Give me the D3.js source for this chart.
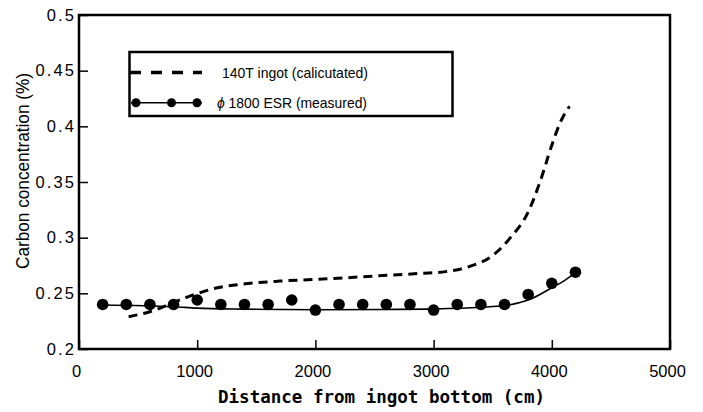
<!DOCTYPE html>
<html><head><meta charset="utf-8">
<script src="https://cdn.jsdelivr.net/npm/d3@7"></script>
<style>html,body{margin:0;padding:0;background:#fff;}</style>
</head><body>
<script>
// ---- data ----
const xTicks = [0, 1000, 2000, 3000, 4000, 5000];
const xTickLabels = ["0", "1000", "2000", "3000", "4000", "5000"];
const yTicks = [0.2, 0.25, 0.3, 0.35, 0.4, 0.45, 0.5];
const yTickLabels = ["0.2", "0.25", "0.3", "0.35", "0.4", "0.45", "0.5"];

const measuredX = [200, 400, 600, 800, 1000, 1200, 1400, 1600, 1800, 2000, 2200, 2400, 2600, 2800, 3000, 3200, 3400, 3600, 3800, 4000, 4200];
const measuredY = [0.24, 0.24, 0.24, 0.24, 0.244, 0.24, 0.24, 0.24, 0.244, 0.235, 0.24, 0.24, 0.24, 0.24, 0.235, 0.24, 0.24, 0.24, 0.249, 0.259, 0.269];

const fitX = [200, 800, 1000, 1400, 2000, 2600, 3000, 3400, 3600, 3700, 3800, 3900, 4000, 4100, 4200];
const fitY = [0.2395, 0.238, 0.2367, 0.2358, 0.2352, 0.2355, 0.236, 0.2375, 0.239, 0.241, 0.244, 0.249, 0.255, 0.261, 0.2686];

const calcX = [420, 600, 900, 1150, 1450, 1700, 2100, 2500, 2900, 3100, 3300, 3500, 3650, 3800, 3900, 4000, 4070, 4150];
const calcY = [0.229, 0.2335, 0.246, 0.2545, 0.259, 0.261, 0.263, 0.2655, 0.268, 0.2695, 0.274, 0.284, 0.300, 0.323, 0.350, 0.383, 0.403, 0.418];

const legendLabels = ["140T ingot (calicutated)", "\u03d5 1800 ESR (measured)"];
const xTitle = "Distance from ingot bottom (cm)";
const yTitle = "Carbon concentration (%)";

// ---- drawing ----
const W = 703, H = 412;
const svg = d3.select("body").append("svg").attr("width", W).attr("height", H)
  .style("font-family", "'Liberation Sans', Arial, sans-serif");

const x = d3.scaleLinear().domain([0, 5000]).range([79, 670]);
const y = d3.scaleLinear().domain([0.2, 0.5]).range([349, 15]);

// axes (ticks inward)
const xAxis = d3.axisBottom(x).tickValues(xTicks).tickSize(-9).tickFormat((d, i) => xTickLabels[i]).tickPadding(16);
const gx = svg.append("g").attr("transform", `translate(0,${y(0.2)})`).call(xAxis);
gx.select(".domain").remove();
gx.selectAll(".tick line").attr("stroke", "#000").attr("stroke-width", 1.5);
gx.selectAll(".tick text").attr("fill", "#000").style("font-size", "16.5px").attr("dx", -3);

const yAxis = d3.axisLeft(y).tickValues(yTicks).tickSize(-9).tickFormat((d, i) => yTickLabels[i]).tickPadding(2);
const gy = svg.append("g").attr("transform", `translate(${x(0)},0)`).call(yAxis);
gy.select(".domain").remove();
gy.selectAll(".tick line").attr("stroke", "#000").attr("stroke-width", 1.5);
gy.selectAll(".tick text").attr("fill", "#000").style("font-size", "16.5px").style("letter-spacing", "2.1px").attr("x", -3);

// frame
svg.append("rect").attr("x", x(0)).attr("y", y(0.5)).attr("width", x(5000) - x(0)).attr("height", y(0.2) - y(0.5))
  .attr("fill", "none").attr("stroke", "#000").attr("stroke-width", 2.5);

// calculated dashed curve
const calc = calcX.map((d, i) => [d, calcY[i]]);
const line = d3.line().x(d => x(d[0])).y(d => y(d[1])).curve(d3.curveMonotoneX);
svg.append("path").attr("d", line(calc)).attr("fill", "none").attr("stroke", "#000")
  .attr("stroke-width", 3).attr("stroke-dasharray", "9,6");

// fit solid line
const fit = fitX.map((d, i) => [d, fitY[i]]);
svg.append("path").attr("d", line(fit)).attr("fill", "none").attr("stroke", "#000").attr("stroke-width", 1.6);

// measured points
svg.append("g").selectAll("circle").data(measuredX.map((d, i) => [d, measuredY[i]])).join("circle")
  .attr("cx", d => x(d[0])).attr("cy", d => y(d[1])).attr("r", 5.8).attr("fill", "#000");

// legend
const lg = svg.append("g");
lg.append("rect").attr("x", 129.5).attr("y", 52).attr("width", 323).attr("height", 64)
  .attr("fill", "#fff").attr("stroke", "#000").attr("stroke-width", 2.5);
lg.append("line").attr("x1", 130).attr("x2", 202).attr("y1", 72.5).attr("y2", 72.5)
  .attr("stroke", "#000").attr("stroke-width", 3.5).attr("stroke-dasharray", "11,10");
lg.append("line").attr("x1", 131).attr("x2", 202).attr("y1", 102.7).attr("y2", 102.7)
  .attr("stroke", "#000").attr("stroke-width", 1.6);
const legendMarkerX = [136, 171.5, 197];
lg.selectAll("circle.lm").data(legendMarkerX).join("circle").attr("class", "lm")
  .attr("cx", d => d).attr("cy", 102.7).attr("r", 4.5).attr("fill", "#000");
lg.append("text").attr("x", 222).attr("y", 77.5).style("font-size", "15px").attr("fill", "#000")
  .attr("textLength", 146).attr("lengthAdjust", "spacingAndGlyphs").text(legendLabels[0]);
const t2 = lg.append("text").attr("x", 217).attr("y", 107.5).style("font-size", "15px").attr("fill", "#000")
  .attr("textLength", 150).attr("lengthAdjust", "spacingAndGlyphs");
t2.append("tspan").style("font-style", "italic").text(legendLabels[1].slice(0, 1));
t2.append("tspan").text(legendLabels[1].slice(1));

// axis titles
svg.append("text").attr("x", 381.5).attr("y", 403).attr("text-anchor", "middle")
  .style("font-family", "'DejaVu Sans Mono', monospace").style("font-weight", "bold").style("font-size", "17.5px")
  .attr("fill", "#000").attr("textLength", 327).text(xTitle);
svg.append("text").attr("transform", "translate(29,171) rotate(-90)").attr("text-anchor", "middle")
  .style("font-size", "18.5px").attr("fill", "#000").attr("textLength", 196).attr("lengthAdjust", "spacingAndGlyphs").text(yTitle);
</script>
</body></html>
